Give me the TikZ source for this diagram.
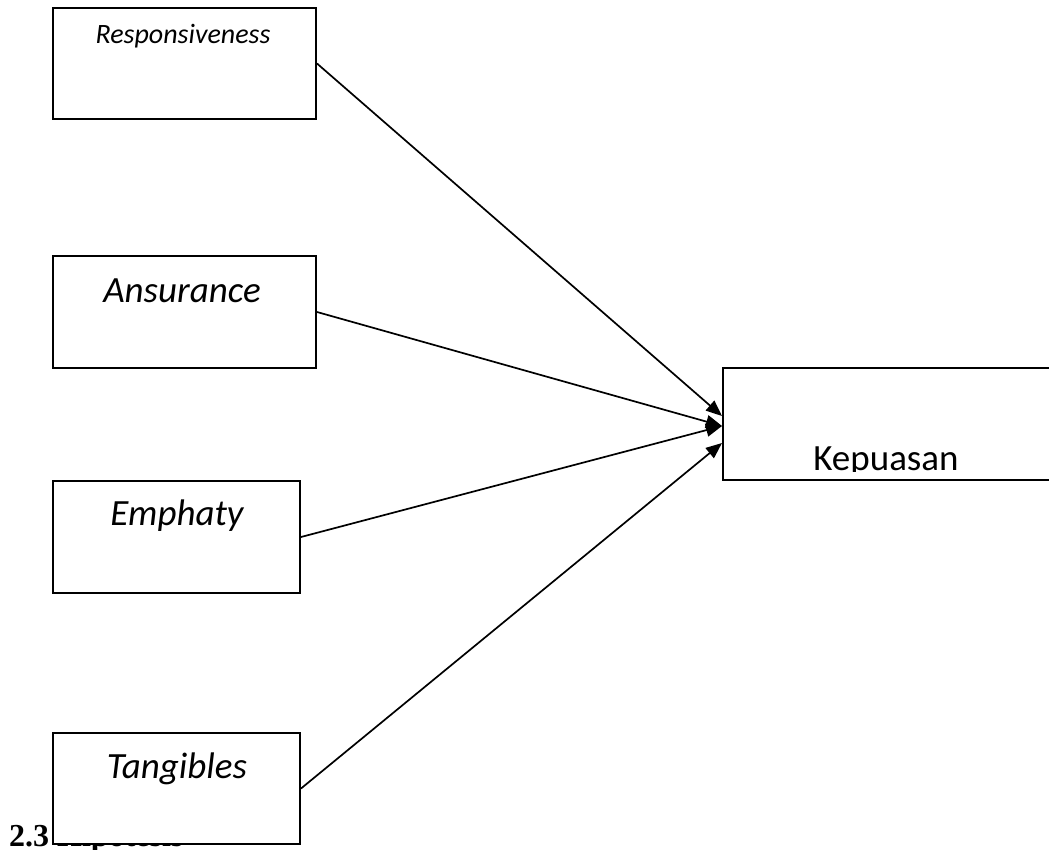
\documentclass[tikz,border=0pt]{standalone}
\usepackage{fontspec}
\setmainfont{Carlito}
\newfontfamily\timesf{Liberation Serif}
\usetikzlibrary{arrows.meta}
\begin{document}
\begin{tikzpicture}[x=1pt,y=-1pt,
  box/.style={draw, line width=2pt, fill=white, inner sep=0pt, anchor=north west},
  lbl/.style={anchor=base, inner sep=0pt, font=\fontsize{37}{40}\selectfont\itshape},
  arr/.style={line width=1.7pt, -{Triangle[length=16pt,width=13pt]}}]
\useasboundingbox (0,0) rectangle (1049,849);
\clip (0,0) rectangle (1049,849);
% heading partly hidden behind the last box
\node[anchor=base west, inner sep=0pt, font=\timesf\bfseries\fontsize{32}{36}\selectfont] (h) at (9,846) {2.3 Hipotesis};
% boxes
\node[box, minimum width=263pt, minimum height=111pt] (r) at (52,7) {};
\node[box, minimum width=263pt, minimum height=112pt] (a) at (52,255) {};
\node[box, minimum width=247pt, minimum height=112pt] (e) at (52,480) {};
\node[box, minimum width=247pt, minimum height=111pt] (t) at (52,732) {};
\node[box, minimum width=360pt, minimum height=112pt] (k) at (722,367) {};
% labels
\node[lbl, font=\fontsize{28}{32}\selectfont\itshape] (rl) at (183,43) {Responsiveness};
\node[lbl] (al) at (182,302) {Ansurance};
\node[lbl] (el) at (177,525) {Emphaty};
\node[lbl] (tl) at (177,778) {Tangibles};
\begin{scope}
\clip (722,367) rectangle (1049,471);
\node[anchor=base, inner sep=0pt, font=\fontsize{37}{40}\selectfont] (kl) at (886,470) {Kepuasan};
\end{scope}
% arrow end points on Kepuasan
\coordinate (k1) at ([yshift=8pt]k.west);
\coordinate (k2) at ([yshift=-2pt]k.west);
\coordinate (k3) at ([yshift=-19pt]k.west);
\draw[arr] (r.east) -- (k1);
\draw[arr] (a.east) -- (k2);
\draw[arr] (e.east) -- (k2);
\draw[arr] (t.east) -- (k3);
\end{tikzpicture}
\end{document}
